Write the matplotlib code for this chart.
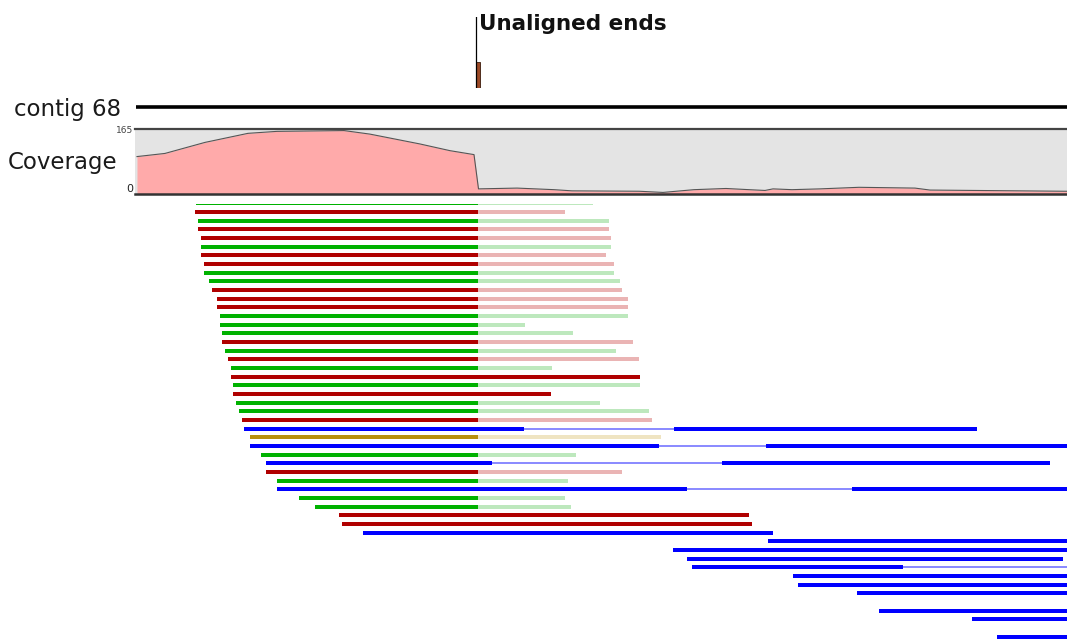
import matplotlib.pyplot as plt

# coverage profile along contig 68 (position, depth)
cov_pos = [137, 165, 205, 248, 277, 344, 370, 420, 450, 474, 478.5, 517, 554, 572,
           639, 663, 694, 726, 749, 765, 773, 792, 820, 859, 915, 930, 1064, 1067]
cov_depth = [95, 103, 131, 154, 159, 161, 152, 127, 110, 100, 13, 15, 11, 8,
             7, 4, 11, 14, 11, 9, 13, 11, 13, 17, 15, 10, 7, 7]
cov_max = 165

# unaligned ends histogram
unaligned_pos = [478]
unaligned_count = [28]

# reads: row, start, end, kind (F fwd, R rev, U unpaired, B mate)
read_row = list(range(46)) + [47, 48, 50]
read_start = [196, 195.3, 198.3, 198.3, 200.7, 200.7, 200.7, 204, 204, 209.3,
              211.7, 217, 217, 220, 220, 222.3, 222.3, 225.3, 228, 230.7,
              230.7, 233.3, 233.3, 236.3, 239, 241.7, 244.3, 250, 250, 261,
              266, 266, 277.3, 277.3, 298.7, 315, 339.3, 342, 363.3, 768.3,
              673.3, 686.7, 692.3, 792.7, 798.3, 857.3, 879.3, 971.7, 996.7]
read_end = [592.7, 565.3, 609, 609, 611, 611, 605.7, 614.3, 614.3, 619.7,
            622, 627.7, 627.7, 627.7, 525, 572.7, 633, 616.3, 638.7, 551.7,
            640.3, 640.3, 551, 600, 649.3, 651.7, 976.6, 660.7, 1080, 576,
            1050, 622.3, 567.7, 1080, 565.3, 570.7, 749, 752, 773.3, 1080,
            1080, 1063, 1080, 1080, 1080, 1080, 1080, 1080, 1080]
read_kind = "FRFRRFRRFFRRRFFFRFRFRFRFFRBUBFBRFBFFRRBBBBBBBBBBB"
unclipped_rows = [20, 22, 36, 37]
clip_pos = 478

# split reads: row -> (gap start, gap end)
gaps = {26: (524, 674), 28: (659.3, 765.5), 30: (491.7, 722),
        33: (686.5, 852), 42: (903.3, 1080)}

dark = {"F": "#00b200", "R": "#b00000", "U": "#b8900e", "B": "#0000ff"}
faint = {"F": "#bde8bd", "R": "#eab4b4", "U": "#efe4c2", "B": "#8c8cff"}

W, H = 1067, 641
fig = plt.figure(figsize=(W / 100, H / 100), dpi=100)

# overlay for labels and contig line (pixel coordinates)
ax = fig.add_axes([0, 0, 1, 1])
ax.set_xlim(0, W)
ax.set_ylim(H, 0)
ax.axis("off")
ax.plot([136, W], [106.5, 106.5], color="black", lw=2.6, solid_capstyle="butt")
ax.text(14, 116, "contig 68", fontsize=16.5, color="#1a1a1a", va="baseline")
ax.text(8, 169, "Coverage", fontsize=16.5, color="#1a1a1a", va="baseline")
ax.text(133, 133, "165", fontsize=6.5, color="#444444", ha="right", va="baseline")
ax.text(133, 192, "0", fontsize=8, color="#222222", ha="right", va="baseline")
ax.text(479, 29.5, "Unaligned ends", fontsize=15.5, fontweight="bold",
        color="#111111", va="baseline")

# unaligned ends histogram
ax_u = fig.add_axes([137 / W, 1 - 88 / H, (W - 137) / W, 71 / H])
ax_u.set_xlim(137, W)
ax_u.set_ylim(0, 77)
ax_u.axis("off")
for p, c in zip(unaligned_pos, unaligned_count):
    ax_u.axvline(p - 2, color="black", lw=0.9)
    ax_u.bar(p, c, width=4, color="#9c4a26", edgecolor="#3a1a0a", lw=0.6)

# coverage panel
ax_c = fig.add_axes([135 / W, 1 - 194 / H, (W - 135) / W, 65 / H])
ax_c.set_xlim(135, W)
ax_c.set_ylim(0, cov_max)
ax_c.set_facecolor("#e4e4e4")
ax_c.fill_between(cov_pos, cov_depth, 0, color="#ffaaaa", lw=0)
ax_c.plot(cov_pos, cov_depth, color="#555555", lw=0.8)
for s in ["left", "right"]:
    ax_c.spines[s].set_visible(False)
ax_c.spines["top"].set_color("#444444")
ax_c.spines["top"].set_linewidth(1.6)
ax_c.spines["bottom"].set_color("#333333")
ax_c.spines["bottom"].set_linewidth(1.8)
ax_c.set_xticks([])
ax_c.set_yticks([])

# reads panel
top_px = 204
ax_r = fig.add_axes([0, 0, 1, (H - top_px) / H])
ax_r.set_xlim(0, W)
row0, step = 203.33, 8.667
ax_r.set_ylim((H - row0) / step, (top_px - row0) / step)
ax_r.axis("off")
h = 0.47
for r, s, e, k in zip(read_row, read_start, read_end, read_kind):
    if k == "B":
        if r in gaps:
            g0, g1 = gaps[r]
            ax_r.barh(r, g0 - s, left=s, height=h, color=dark[k], lw=0)
            ax_r.barh(r, g1 - g0, left=g0, height=0.2, color=faint[k], lw=0)
            if g1 < e:
                ax_r.barh(r, e - g1, left=g1, height=h, color=dark[k], lw=0)
        else:
            ax_r.barh(r, e - s, left=s, height=h, color=dark[k], lw=0)
    elif r in unclipped_rows:
        ax_r.barh(r, e - s, left=s, height=h, color=dark[k], lw=0)
    else:
        ax_r.barh(r, clip_pos - s, left=s, height=h, color=dark[k], lw=0)
        ax_r.barh(r, e - clip_pos, left=clip_pos, height=h, color=faint[k], lw=0)

fig.savefig("out.png", dpi=100)
